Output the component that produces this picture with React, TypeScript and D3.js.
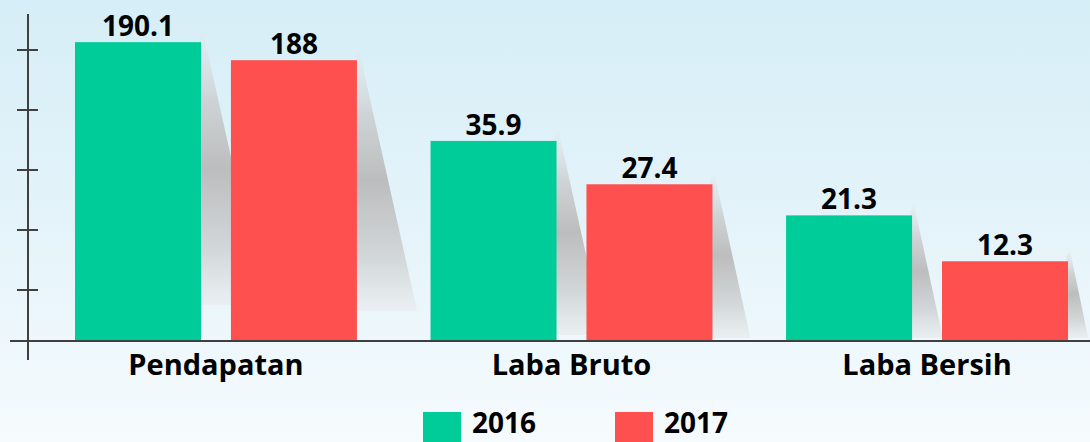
import React from "react";
import * as d3 from "d3";

const categories = ["Pendapatan", "Laba Bruto", "Laba Bersih"];
const seriesNames = ["2016", "2017"];
const values2016 = [190.1, 35.9, 21.3];
const values2017 = [188, 27.4, 12.3];
const seriesColors = ["#00cc99", "#ff5050"];
const axisTickValues = [1, 2, 3, 4, 5];

const W = 1090;
const H = 442;
const BASE = 341;
const FONT = "'Open Sans', 'DejaVu Sans', sans-serif";

export default function App() {
  const x0 = d3.scaleBand<string>().domain(categories).range([75, 1068]).paddingInner(0.207).paddingOuter(0);
  const x1 = d3.scaleBand<string>().domain(seriesNames).range([0, x0.bandwidth()]).paddingInner(0.192);
  // broken (piecewise) value scale, as in the original infographic
  const y = d3.scaleLinear().domain([0, 40, 185, 195]).range([324, 120, 86, 0]);
  const tickScale = d3.scaleLinear().domain([0, 5]).range([350, 50]);
  const color = d3.scaleOrdinal<string, string>().domain(seriesNames).range(seriesColors);

  const rows = categories.map((c, i) => ({
    cat: c,
    vals: [
      { s: "2016", v: values2016[i] },
      { s: "2017", v: values2017[i] },
    ],
  }));

  const shadows: React.ReactNode[] = [];
  const bars: React.ReactNode[] = [];
  const labels: React.ReactNode[] = [];
  rows.forEach((r) => {
    r.vals.forEach((d) => {
      const bx = (x0(r.cat) as number) + (x1(d.s) as number);
      const bw = x1.bandwidth();
      const top = y(d.v);
      const h = BASE - top;
      const sTop = top - 11;
      const sBottom = BASE - Math.max(3, (h - 180) * 0.3);
      const run = 0.23 * (sBottom - sTop);
      const right = bx + bw;
      shadows.push(
        <polygon
          key={"s" + r.cat + d.s}
          points={`${right - 2},${sTop + 6} ${right + 2},${sTop} ${right + run},${sBottom} ${right - 2},${sBottom}`}
          fill="url(#shadowGrad)"
        />
      );
      bars.push(
        <rect key={"b" + r.cat + d.s} x={bx} y={top} width={bw} height={BASE + 1 - top} fill={color(d.s)} />
      );
      labels.push(
        <text
          key={"l" + r.cat + d.s}
          x={bx + bw / 2}
          y={top - 6}
          textAnchor="middle"
          fontFamily={FONT}
          fontWeight="bold"
          fontSize={28}
          fill="#000"
        >
          {String(d.v)}
        </text>
      );
    });
  });

  return (
    <svg width={W} height={H} style={{ position: "fixed", left: 0, top: 0 }}>
      <defs>
        <linearGradient id="bgGrad" x1="0" y1="0" x2="0" y2="1">
          <stop offset="0" stopColor="#d6eef7" />
          <stop offset="0.5" stopColor="#e4f3fa" />
          <stop offset="1" stopColor="#f6fbfd" />
        </linearGradient>
        <linearGradient id="shadowGrad" x1="0" y1="0" x2="0" y2="1">
          <stop offset="0" stopColor="#e2e8ea" stopOpacity="0.3" />
          <stop offset="0.25" stopColor="#cbcecf" stopOpacity="0.85" />
          <stop offset="0.5" stopColor="#bababa" stopOpacity="0.95" />
          <stop offset="0.8" stopColor="#d0d4d5" stopOpacity="0.9" />
          <stop offset="1" stopColor="#e8ecee" stopOpacity="0.7" />
        </linearGradient>
      </defs>
      <rect x={0} y={0} width={W} height={H} fill="url(#bgGrad)" />
      {shadows}
      {bars}
      {labels}
      {/* axes */}
      <line x1={28} y1={14} x2={28} y2={360} stroke="#404040" strokeWidth={2} />
      {axisTickValues.map((t) => (
        <line key={"t" + t} x1={17} x2={38} y1={tickScale(t)} y2={tickScale(t)} stroke="#404040" strokeWidth={2} />
      ))}
      <line x1={10} y1={BASE} x2={W} y2={BASE} stroke="#404040" strokeWidth={2} />
      {categories.map((c) => (
        <text
          key={"c" + c}
          x={(x0(c) as number) + x0.bandwidth() / 2}
          y={375}
          textAnchor="middle"
          fontFamily={FONT}
          fontWeight="bold"
          fontSize={29}
          fill="#000"
        >
          {c}
        </text>
      ))}
      {/* legend */}
      {seriesNames.map((s, i) => {
        const lx = i === 0 ? 423 : 615;
        return (
          <g key={"lg" + s}>
            <rect x={lx} y={412} width={38} height={34} fill={color(s)} />
            <text x={lx + 49} y={433} fontFamily={FONT} fontWeight="bold" fontSize={28} fill="#000">
              {s}
            </text>
          </g>
        );
      })}
    </svg>
  );
}
